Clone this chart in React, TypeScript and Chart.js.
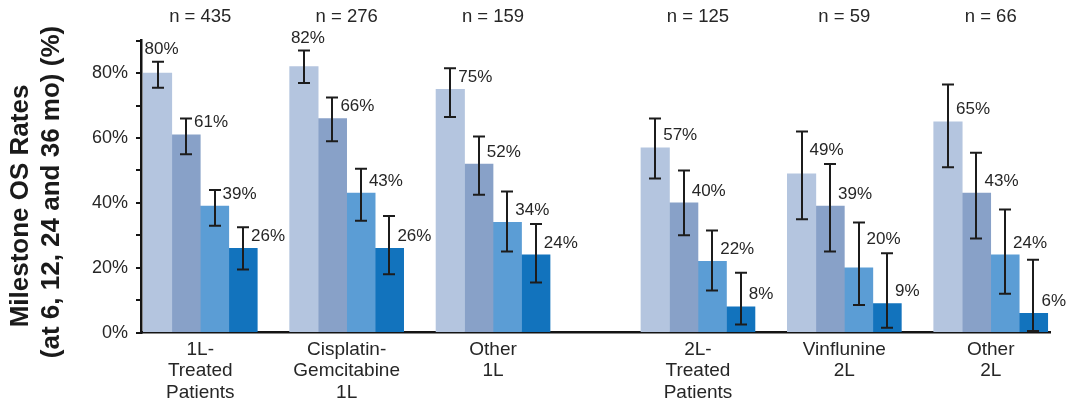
import { useEffect, useRef } from 'react';
import { Chart, registerables } from 'chart.js';

Chart.register(...registerables);

// ---------- data ----------
const groupLabels: string[][] = [
  ['1L-', 'Treated', 'Patients'],
  ['Cisplatin-', 'Gemcitabine', '1L'],
  ['Other', '1L'],
  ['2L-', 'Treated', 'Patients'],
  ['Vinflunine', '2L'],
  ['Other', '2L'],
];
const groupN = [435, 276, 159, 125, 59, 66];
const seriesNames = ['6 mo', '12 mo', '24 mo', '36 mo'];

const rate6 = [80, 82, 75, 57, 49, 65];
const rate12 = [61, 66, 52, 40, 39, 43];
const rate24 = [39, 43, 34, 22, 20, 24];
const rate36 = [26, 26, 24, 8, 9, 6];

const upper6 = [83.5, 87, 81.5, 66, 62, 76.5];
const lower6 = [75.5, 77, 66.5, 47.5, 35, 51];
const upper12 = [66, 72.5, 60.5, 50, 52, 55.5];
const lower12 = [55, 59, 42.5, 30, 25, 29];
const upper24 = [44, 50.5, 43.5, 31.5, 34, 38];
const lower24 = [33, 34.5, 25, 13, 8.5, 12];
const upper36 = [32.5, 36, 33.5, 18.5, 24.5, 22.5];
const lower36 = [19.5, 18, 15.5, 2.5, 1.5, 0.5];

const yTickLabelled = [0, 20, 40, 60, 80];
const yTitle = ['Milestone OS Rates', '(at 6, 12, 24 and 36 mo) (%)'];

// ---------- layout / style ----------
const FONT = '"Liberation Sans", Arial, Helvetica, sans-serif';
const TEXT = '#262626';
const AXIS = '#141414';
const colors = ['rgb(180,197,223)', 'rgb(136,161,200)', 'rgb(91,157,213)', 'rgb(18,115,189)'];
const extraGapAfter = 2; // wider gap between 1L and 2L blocks
const extraGap = 0.4;
const groupX = groupLabels.map((_, i) => i + (i > extraGapAfter ? extraGap : 0));
const aboveCapLabels: [number, number][] = [[0, 0], [0, 1]]; // [series, group]

const seriesValues = [rate6, rate12, rate24, rate36];
const seriesUpper = [upper6, upper12, upper24, upper36];
const seriesLower = [lower6, lower12, lower24, lower36];

const overlayPlugin = {
  id: 'overlay',
  afterDatasetsDraw(chart: any) {
    const ctx = chart.ctx as CanvasRenderingContext2D;
    const ys = chart.scales.y;
    const xs = chart.scales.x;
    ctx.save();
    // error bars
    ctx.strokeStyle = '#1c1c1c';
    ctx.lineWidth = 2;
    seriesValues.forEach((_, si) => {
      const meta = chart.getDatasetMeta(si);
      meta.data.forEach((bar: any, gi: number) => {
        const cx = Math.round(bar.x);
        const t = ys.getPixelForValue(seriesUpper[si][gi]);
        const b = ys.getPixelForValue(seriesLower[si][gi]);
        ctx.beginPath();
        ctx.moveTo(cx, t);
        ctx.lineTo(cx, b);
        ctx.moveTo(cx - 6, t);
        ctx.lineTo(cx + 6, t);
        ctx.moveTo(cx - 6, b);
        ctx.lineTo(cx + 6, b);
        ctx.stroke();
      });
    });
    // value labels
    ctx.fillStyle = TEXT;
    ctx.font = `17px ${FONT}`;
    ctx.textBaseline = 'middle';
    seriesValues.forEach((vals, si) => {
      const meta = chart.getDatasetMeta(si);
      meta.data.forEach((bar: any, gi: number) => {
        const cx = bar.x;
        const text = vals[gi] + '%';
        const capY = ys.getPixelForValue(seriesUpper[si][gi]);
        if (aboveCapLabels.some(([s, g]) => s === si && g === gi)) {
          ctx.textAlign = 'center';
          ctx.fillText(text, cx + 4, capY - 12);
          return;
        }
        let cy = ys.getPixelForValue(vals[gi]) - 12;
        if (si < seriesValues.length - 1) {
          const nextCap = ys.getPixelForValue(seriesUpper[si + 1][gi]);
          if (Math.abs(cy - nextCap) < 10) cy = nextCap - 14;
        }
        ctx.textAlign = 'left';
        ctx.fillText(text, cx + 8, cy);
      });
    });
    // n labels
    ctx.font = `18.5px ${FONT}`;
    ctx.textAlign = 'center';
    groupN.forEach((n, gi) => {
      ctx.fillText(`n = ${n}`, xs.getPixelForValue(groupX[gi]), 17);
    });
    // y title
    ctx.font = `bold 26px ${FONT}`;
    ctx.fillStyle = '#1a1a1a';
    const titlePos = [[21, 206], [52, 192]];
    yTitle.forEach((line, i) => {
      ctx.save();
      ctx.translate(titlePos[i][0], titlePos[i][1]);
      ctx.rotate(-Math.PI / 2);
      ctx.textAlign = 'center';
      ctx.textBaseline = 'middle';
      ctx.fillText(line, 0, 0);
      ctx.restore();
    });
    ctx.restore();
  },
};

export default function App() {
  const canvasRef = useRef<HTMLCanvasElement | null>(null);

  useEffect(() => {
    if (!canvasRef.current) return;
    const chart = new Chart(canvasRef.current, {
      type: 'bar',
      data: {
        datasets: seriesValues.map((vals, si) => ({
          label: seriesNames[si],
          data: vals.map((v, gi) => ({ x: groupX[gi], y: v })),
          backgroundColor: colors[si],
          borderWidth: 0,
          barThickness: 28.5,
        })),
      },
      options: {
        animation: false,
        responsive: false,
        layout: { padding: { top: 40.7, right: 24, bottom: 0, left: 0 } },
        plugins: { legend: { display: false }, tooltip: { enabled: false } },
        scales: {
          x: {
            type: 'linear',
            min: -0.405,
            max: 5.805,
            offset: false,
            grid: { display: false, drawTicks: false, offset: false },
            border: { display: true, color: AXIS, width: 2.5 },
            afterBuildTicks: (scale: any) => {
              scale.ticks = groupX.map((v) => ({ value: v }));
            },
            afterFit: (scale: any) => {
              scale.height = 404 - 332.7;
            },
            ticks: {
              autoSkip: false,
              maxRotation: 0,
              padding: 6,
              color: TEXT,
              font: { family: FONT, size: 19, lineHeight: 1.13 },
              callback: (_v: any, i: number) => groupLabels[i],
            },
          },
          y: {
            min: 0,
            max: 90,
            grid: {
              display: true,
              drawOnChartArea: false,
              drawTicks: true,
              tickLength: 5,
              color: AXIS,
              lineWidth: 2,
            },
            border: { display: true, color: AXIS, width: 2.5 },
            afterFit: (scale: any) => {
              scale.width = 141;
            },
            ticks: {
              stepSize: 10,
              padding: 8,
              color: TEXT,
              font: { family: FONT, size: 18 },
              callback: (v: any) => (yTickLabelled.includes(Number(v)) ? v + '%' : ''),
            },
          },
        },
      },
      plugins: [overlayPlugin],
    });
    return () => chart.destroy();
  }, []);

  return (
    <div style={{ position: 'absolute', left: 0, top: 0, width: 1074, height: 404, background: '#fff' }}>
      <canvas ref={canvasRef} width={1074} height={404} style={{ display: 'block' }} />
    </div>
  );
}
